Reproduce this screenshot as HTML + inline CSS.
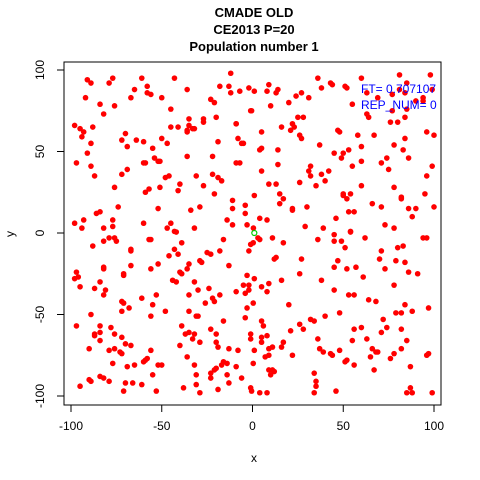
<!DOCTYPE html>
<html><head><meta charset="utf-8"><style>
body{margin:0;background:#fff}
svg{display:block;font-family:"Liberation Sans",sans-serif}
</style></head><body>
<svg id="chart" width="480" height="480">
<rect width="480" height="480" fill="#fff"/>
<g font-weight="bold" font-size="13" text-anchor="middle" fill="#000">
<text x="254" y="17">CMADE OLD</text>
<text x="254" y="34">CE2013 P=20</text>
<text x="254" y="51">Population number 1</text>
</g>
<rect x="64" y="62" width="377" height="343" fill="none" stroke="#000" stroke-width="1"/>
<g id="xaxis"></g>
<g id="yaxis"></g>
<text x="254" y="462" font-size="12" text-anchor="middle">x</text>
<text x="14" y="234" font-size="12" text-anchor="middle" transform="rotate(-90 14 234)">y</text>
<g id="pts"></g>
<g fill="#0000ff" font-size="12">
<text x="361" y="93">FT= 0.707107</text>
<text x="361" y="109">REP_NUM= 0</text>
</g>
</svg>
<script>
const xTicks=[-100,-50,0,50,100];
const yTicks=[-100,-50,0,50,100];
const xs=[-91,-89,-77,-79,-61,-43,-12,-58,-65,-58,-56,-50,-36,-18,-13,-2,-7,-12,-92,-84,-76,-67,-82,-45,-23,-21,-1,-98,-95,-93,-88,-94,-70,-72,-64,-60,-69,-50,-47,-55,-45,-41,-35,-35,-36,-36,-33,-32,-27,-27,-20,-9,-9,-8,-6,-5,-19,-89,-91,-97,-89,-87,-54,-52,-51,-60,-59,-69,-72,-36,-22,-9,-7,-22,-19,-17,-48,-46,-40,-31,-27,-76,-51,-57,-59,-41,-21,-11,-4,-11,-4,-74,-86,-84,-52,-34,-29,-98,-93,-94,-82,-77,-77,-60,-45,-47,-43,-32,-14,-11,-3,
36,60,81,98,9,8,1,14,13,38,43,44,51,52,24,27,31,20,10,-0.5,55,63,69,77,81,84,85,90,94,94,99,85,77,63,64,84,80,76,25,28,16,22,23,21,26,27,5,47,48,58,67,96,100,84,78,83,86,5,4,14,37,45,50,49,53,60,60,74,71,75,55,32,31,32,38,42,40,35,26,5,14,9,13,60,78,99,96,1,15,17,15,22,22,30,50,50,54,52,66,71,82,82,86,90,95,100,88,46,53,56,4,8,29,39,54,73,78,0.5,
-88,-82,-79,-76,-75,-57,-56,-42,-67,-67,-43,-41,-39,-46,-16,-18,-25,-23,-35,-29,-28,-13,-2,-1,-82,-82,-67,-56,-52,-97,-96,-98,-95,-71,-71,-40,-39,-36,-44,-42,-32,-84,-87,-81,-82,-61,-53,-35,-30,-24,-22,-21,-18,-9,-5,-4,-3,-2,-2,-3,-4,-72,-71,-68,-72,-55,-56,-48,-89,-35,-26,-31,-30,-16,-97,-84,-84,-87,-87,-78,-76,-72,-84,-70,-67,-90,-79,-76,-73,-72,-56,-39,-37,-35,-32,-33,-29,-23,-20,-20,-19,-40,-13,-8,-1,-1,-77,-69,-65,-60,-59,-58,-52,-50,-36,-32,-31,-23,-21,-20,-17,-16,-14,-9,-14,-6,-23,-84,-82,-79,-90,-89,-95,-70,-66,-61,-55,-71,-53,-38,-31,-29,-19,-13,-1,
3,4,0.4,11,17,36,45,45,49,54,62,94,96,51,71,80,83,12,13,27,47,45,52,57,70,79,84,73,86,91,26,61,1,16,9,5,8,38,45,78,53,56,64,68,84,0.4,20,48,40,79,82,88,97,72,5,6,26,32,34,28,21,56,60,74,71,82,8,5,5,17,16,11,9,1,36,55,63,85,37,39,43,44,48,66,68,69,65,78,76,82,96,97,22,9,7,0.4,51,52,56,87,67,9,11,12,10,34,35,35,34,46,-0.5,4,8,85,87,88,99];
const ys=[94,92,95,92,95,95,98,90,88,86,85,83,88,90,90,89,87,86,83,79,78,83,73,76,82,80,75,66,64,62,65,59,61,57,57,56,53,58,55,52,65,65,70,66,63,62,64,64,70,68,71,67,67,58,55,55,56,55,49,43,41,35,46,44,44,43,43,39,36,47,47,43,43,36,34,32,34,35,30,35,29,28,28,27,25,26,24,20,17,15,12,16,12,13,15,14,16,6,8,3,3,4,8,6,6,3,1,3,8,5,5,
95,95,97,97,91,87,87,88,86,89,92,91,90,89,84,86,83,80,78,75,79,86,83,85,88,86,92,81,83,81,88,76,75,73,71,71,68,68,71,71,65,67,65,63,60,58,62,63,62,60,60,62,60,58,54,51,46,52,51,51,54,49,49,46,51,53,44,46,43,39,41,41,38,35,36,38,32,29,31,38,42,30,30,29,28,41,35,23,24,21,18,15,14,16,24,23,24,21,18,16,21,22,15,15,24,16,10,9,13,13,9,8,4,3,1,5,3,3,
-8,-5,-3,-3,-5,-4,-4,0.6,-10,-11,-10,-13,-6,-14,-4,-11,-12,-13,-19,-17,-18,-20,-11,-7,-21,-22,-20,-22,-19,-24,-27,-28,-33,-25,-26,-24,-25,-22,-29,-30,-30,-30,-34,-35,-38,-40,-38,-38,-35,-34,-40,-42,-38,-36,-32,-37,-26,-32,-35,-46,-52,-42,-43,-46,-48,-44,-51,-48,-50,-48,-43,-51,-51,-54,-57,-57,-61,-62,-63,-58,-62,-64,-66,-68,-69,-71,-72,-71,-73,-74,-72,-57,-62,-61,-62,-65,-67,-59,-62,-67,-70,-69,-71,-72,-62,-65,-80,-82,-81,-79,-78,-77,-81,-81,-76,-81,-87,-86,-84,-83,-81,-79,-80,-82,-87,-89,-89,-88,-89,-91,-90,-91,-94,-92,-92,-93,-87,-97,-97,-95,-93,-98,-96,-92,-95,
-3,-4,-6,-3,-6,-4,-1,-5,-5,0.6,-3,-3,-3,-9,-11,-9,-8,-16,-15,-16,-17,-21,-22,-21,-16,-17,-18,-22,-24,-25,-25,-27,-28,-29,-31,-33,-36,-29,-35,-32,-38,-38,-41,-42,-44,-43,-44,-49,-51,-49,-49,-48,-46,-53,-54,-57,-56,-53,-54,-59,-60,-59,-58,-58,-61,-59,-63,-64,-67,-67,-70,-70,-71,-72,-65,-66,-65,-66,-71,-73,-74,-75,-72,-71,-73,-73,-76,-74,-77,-71,-75,-74,-75,-75,-76,-80,-79,-78,-81,-82,-84,-84,-84,-85,-87,-86,-91,-94,-98,-97,-97,-98,-98,-98,-95,-98,-98];
const best=[1,0];
const NS='http://www.w3.org/2000/svg';
const sx=v=>252.5+v*1.815;
const sy=v=>233-v*1.63;
const svg=document.getElementById('chart');
const xa=document.getElementById('xaxis'),ya=document.getElementById('yaxis'),pg=document.getElementById('pts');
function mk(t,a,p){const e=document.createElementNS(NS,t);for(const k in a)e.setAttribute(k,a[k]);p.appendChild(e);return e;}
mk('line',{x1:sx(-100),x2:sx(100),y1:405,y2:405,stroke:'#000'},xa);
xTicks.forEach(v=>{
 const l=mk('line',{x1:sx(v),x2:sx(v),y1:405,y2:412,stroke:'#000'},xa);
 
 
 const t=mk('text',{x:sx(v),y:430,'font-size':12,'text-anchor':'middle'},xa);
 t.textContent=v;
 
 
});
mk('line',{x1:64,x2:64,y1:sy(-100),y2:sy(100),stroke:'#000'},ya);
yTicks.forEach(v=>{
 const l=mk('line',{x1:57,x2:64,y1:sy(v),y2:sy(v),stroke:'#000'},ya);
 
 
 const t=mk('text',{x:44,y:sy(v),'font-size':12,'text-anchor':'middle',transform:`rotate(-90 44 ${sy(v)})`},ya);
 t.textContent=v;
 
 
});
const n=Math.min(xs.length,ys.length);
for(let i=0;i<n;i++){
 const c=mk('circle',{cx:sx(xs[i]),cy:sy(ys[i]),r:2.8,fill:'#ff0000'},pg);
 
 
}
const g=mk('circle',{cx:sx(best[0]),cy:sy(best[1]),r:2.5,fill:'none',stroke:'#00cc00','stroke-width':1.2},pg);


</script>
</body></html>
